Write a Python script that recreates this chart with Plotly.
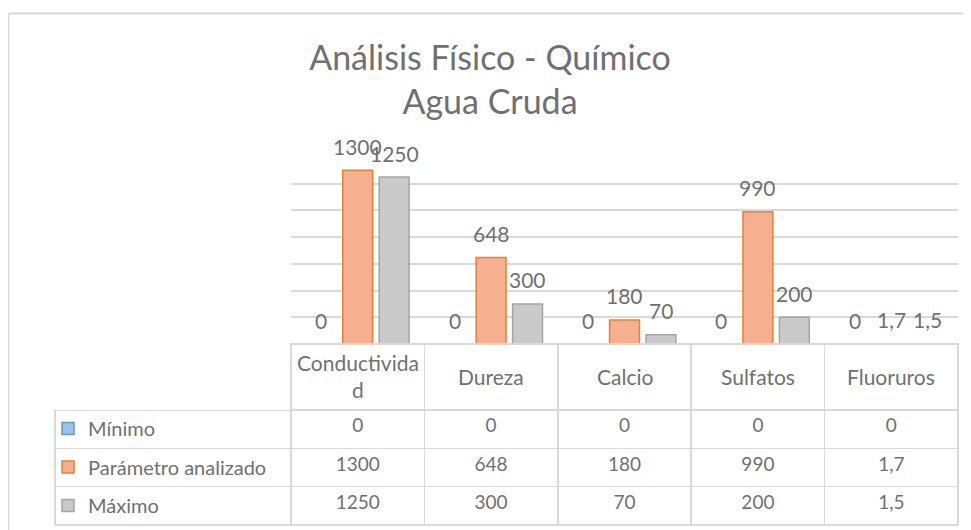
# Análisis físico-químico del agua cruda: barras agrupadas con tabla de datos debajo
import plotly.graph_objects as go

categories = ["Conductividad", "Dureza", "Calcio", "Sulfatos", "Fluoruros"]
category_labels = ["Conductivida<br>d", "Dureza", "Calcio", "Sulfatos", "Fluoruros"]

series_names = ["Mínimo", "Parámetro analizado", "Máximo"]
minimo = [0, 0, 0, 0, 0]
parametro = [1300, 648, 180, 990, 1.7]
maximo = [1250, 300, 70, 200, 1.5]

fills = ["#9dc3e6", "#f5b08f", "#cacaca"]
edges = ["#5b9bd5", "#ed7d31", "#a5a5a5"]

grey = "#707070"
grid = "#d9d9d9"
font = "Lato"


def fmt(v):
    # formato con coma decimal, como en la hoja original
    if float(v).is_integer():
        return str(int(v))
    return str(v).replace(".", ",")


# la página pone 8px de margen al body: se trabaja en coordenadas de pantalla
OFF = 8
W, H = 971 - OFF, 530 - OFF


def px(sx):
    return (sx - OFF) / W


def py(sy):
    return 1 - (sy - OFF) / H


plot_x0, plot_x1 = 291, 958
bargap = 0.18
# ancho de cada hueco de barra dentro de la categoría, en px
slot = (plot_x1 - plot_x0) / len(categories) * (1 - bargap) / 3

fig = go.Figure()

all_series = [minimo, parametro, maximo]
for k, (name, vals, fc, ec) in enumerate(zip(series_names, all_series, fills, edges)):
    fig.add_trace(go.Bar(
        x=categories,
        y=vals,
        name=name,
        legendgroup=name,
        marker=dict(color=fc, line=dict(color=ec, width=1.5)),
    ))
    # etiquetas de datos sobre cada barra
    for cat, v in zip(categories, vals):
        fig.add_annotation(
            x=cat, y=v, xref="x", yref="y",
            xshift=(k - 1) * slot, yshift=24, yanchor="middle",
            text=fmt(v), showarrow=False,
            font=dict(family=font, size=21, color=grey),
        )

# tabla de datos; la primera columna la ocupa la leyenda
value_cols = [[fmt(s[i]) for s in all_series] for i in range(len(categories))]

fig.add_trace(go.Table(
    domain=dict(x=[px(55), px(plot_x1)], y=[0, py(344)]),
    columnwidth=[236] + [133.4] * len(categories),
    header=dict(
        values=[""] * (len(categories) + 1),
        height=66,
        fill_color="white",
        line=dict(color=["rgba(0,0,0,0)"] + [grid] * len(categories), width=1.5),
    ),
    cells=dict(
        values=[[""] * len(series_names)] + value_cols,
        height=38.3,
        align="center",
        fill_color="white",
        line=dict(color=grid, width=1.5),
        font=dict(family=font, size=19, color=grey),
    ),
))

# rótulos de categoría en la cabecera de la tabla
for cat, lab in zip(categories, category_labels):
    fig.add_annotation(
        x=cat, xref="x", y=py(376), yref="paper",
        text=lab, showarrow=False, yanchor="middle",
        font=dict(family=font, size=21, color=grey),
    )

# borde del área del gráfico
fig.add_shape(type="line", xref="paper", yref="paper", x0=px(8.5), x1=1.02,
              y0=py(13.5), y1=py(13.5), line=dict(color=grid, width=2))
fig.add_shape(type="line", xref="paper", yref="paper", x0=px(8.5), x1=px(8.5),
              y0=-0.02, y1=py(13.5), line=dict(color=grid, width=2))

fig.update_layout(
    width=W, height=H,
    margin=dict(l=0, r=0, t=0, b=0),
    paper_bgcolor="white",
    plot_bgcolor="white",
    showlegend=True,
    legend=dict(
        x=px(48), xanchor="left", y=py(409), yanchor="top",
        traceorder="grouped", tracegroupgap=9.5,
        bgcolor="rgba(0,0,0,0)", borderwidth=0,
        font=dict(family=font, size=20, color=grey),
        itemclick=False, itemdoubleclick=False,
    ),
    barmode="group",
    bargap=bargap,
    bargroupgap=0.18,
    title=dict(
        text="Análisis Físico - Químico<br>Agua Cruda",
        x=px(490), xanchor="center",
        y=py(70), yanchor="middle",
        font=dict(family=font, size=34, color=grey),
    ),
    xaxis=dict(
        domain=[px(plot_x0), px(plot_x1)],
        showticklabels=False, showgrid=False, showline=False, zeroline=False,
        fixedrange=True,
    ),
    yaxis=dict(
        domain=[py(344), py(157)],
        range=[0, 1400], dtick=200,
        showticklabels=False, showline=False, zeroline=False,
        gridcolor=grid, gridwidth=1.5,
    ),
)

fig.write_html("out.html")
